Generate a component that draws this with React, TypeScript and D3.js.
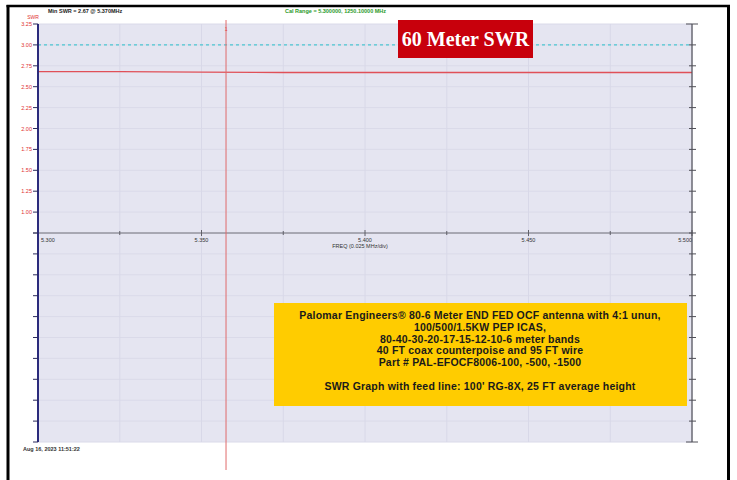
import React from "react";
import * as d3 from "d3";

const freqs = [5.3, 5.325, 5.35, 5.375, 5.4, 5.425, 5.45, 5.475, 5.5];
const swr = [2.68, 2.68, 2.675, 2.67, 2.67, 2.67, 2.67, 2.67, 2.67];
const refSwr = 3.0;
const markerFreq = 5.3575;
const xTickLabels = ["5.300", "5.350", "5.400", "5.450", "5.500"];
const yTickLabels = ["3.25", "3.00", "2.75", "2.50", "2.25", "2.00", "1.75", "1.50", "1.25", "1.00"];
const infoLines = [
  "Palomar Engineers® 80-6 Meter END FED OCF  antenna with 4:1 unun,",
  "100/500/1.5KW PEP ICAS,",
  "80-40-30-20-17-15-12-10-6 meter bands",
  "40 FT coax counterpoise and 95 FT wire",
  "Part # PAL-EFOCF8006-100, -500, -1500",
  "",
  "SWR Graph with feed line: 100' RG-8X, 25 FT average height",
];
const titleText = "60 Meter SWR";
const minText = "Min SWR =  2.67 @  5.370MHz";
const calText = "Cal Range = 5.300000,  1250.10000 MHz";
const dateText = "Aug 16, 2023  11:51:22";
const xAxisTitle = "FREQ (0.025 MHz/div)";

export default function App() {
  const W = 737, H = 480;
  const left = 38, right = 692, top = 24, bottom = 442;
  const x = d3.scaleLinear().domain([5.3, 5.5]).range([left, right]);
  const y = d3.scaleLinear().domain([-1.75, 3.25]).range([bottom, top]);
  const yTicks = d3.range(21).map((i) => -1.75 + i * 0.25);
  const xTicks = d3.range(9).map((i) => 5.3 + i * 0.025);
  const line = d3
    .line<number>()
    .x((_, i) => x(freqs[i]))
    .y((d) => y(d));
  const font = "'Liberation Sans', Arial, sans-serif";
  const axisY = y(0.75);

  return (
    <svg
      width={W}
      height={H}
      style={{ position: "absolute", left: 0, top: 0, background: "#fff" }}
      fontFamily={font}
    >
      <rect x={0} y={0} width={W} height={H} fill="#fff" />
      <rect x={left} y={top} width={right - left} height={bottom - top} fill="#e5e5f1" />
      {yTicks.map((t, i) => (
        <line key={"hg" + i} x1={left} x2={right} y1={y(t)} y2={y(t)} stroke="#dadae9" strokeWidth={1} />
      ))}
      {xTicks.map((t, i) => (
        <line key={"vg" + i} x1={x(t)} x2={x(t)} y1={top} y2={bottom} stroke="#d8d8e8" strokeWidth={1} />
      ))}
      <line
        x1={left}
        x2={right}
        y1={y(refSwr)}
        y2={y(refSwr)}
        stroke="#4cc6d2"
        strokeWidth={1.2}
        strokeDasharray="3,3"
      />
      <line x1={left - 5} x2={right} y1={axisY} y2={axisY} stroke="#707078" strokeWidth={1} />
      {xTicks.map((t, i) => (
        <line
          key={"xt" + i}
          x1={x(t)}
          x2={x(t)}
          y1={axisY - (i % 2 === 0 ? 3 : 2)}
          y2={axisY + (i % 2 === 0 ? 3 : 2)}
          stroke="#606068"
          strokeWidth={1}
        />
      ))}
      {xTickLabels.map((lab, i) => {
        const xv = x(5.3 + i * 0.05);
        const anchor = i === 0 ? "start" : i === xTickLabels.length - 1 ? "end" : "middle";
        return (
          <text
            key={"xl" + i}
            x={i === 0 ? xv + 3 : xv}
            y={axisY + 9}
            fontSize={5.5}
            textAnchor={anchor}
            fill="#333"
          >
            {lab}
          </text>
        );
      })}
      <text x={360} y={axisY + 15} fontSize={5.5} textAnchor="middle" fill="#333">
        {xAxisTitle}
      </text>
      <path d={line(swr) || ""} fill="none" stroke="#e05058" strokeWidth={1.3} />
      <line x1={x(markerFreq)} x2={x(markerFreq)} y1={20} y2={470} stroke="#e06a6a" strokeWidth={1} />
      <text x={x(markerFreq)} y={31} fontSize={5} textAnchor="middle" fill="#e04040">
        1
      </text>
      <line x1={left} x2={left} y1={top} y2={bottom} stroke="#2b2b7c" strokeWidth={2} />
      {yTicks.map((t, i) => (
        <line key={"yt" + i} x1={left - 5} x2={left} y1={y(t)} y2={y(t)} stroke="#2b2b5c" strokeWidth={1} />
      ))}
      {yTickLabels.map((lab) => (
        <text
          key={"yl" + lab}
          x={32}
          y={y(parseFloat(lab)) + 2}
          fontSize={5.5}
          textAnchor="end"
          fill="#e03030"
        >
          {lab}
        </text>
      ))}
      <text x={33} y={19} fontSize={5} textAnchor="middle" fill="#e03030">
        SWR
      </text>
      <line x1={right} x2={right} y1={top} y2={bottom} stroke="#505058" strokeWidth={1.2} />
      {yTicks.map((t, i) => (
        <line
          key={"rt" + i}
          x1={right - (i === 0 || i === 20 ? 6 : 3)}
          x2={right + (i === 0 || i === 20 ? 6 : 4)}
          y1={y(t)}
          y2={y(t)}
          stroke="#505058"
          strokeWidth={1}
        />
      ))}
      <text x={48} y={13} fontSize={5.5} fontWeight="bold" fill="#222">
        {minText}
      </text>
      <text x={285} y={13} fontSize={5.5} fontWeight="bold" fill="#2a9a2a">
        {calText}
      </text>
      <rect x={398} y={20} width={135} height={38} fill="#c8000c" />
      <text
        x={465.5}
        y={46}
        fontSize={20}
        fontWeight="bold"
        textAnchor="middle"
        fill="#fff"
        fontFamily="'Liberation Serif', 'Times New Roman', serif"
      >
        {titleText}
      </text>
      <rect x={274} y={303} width={413} height={103} fill="#ffcc00" />
      {infoLines.map((l, i) => (
        <text
          key={"il" + i}
          x={480}
          y={319 + i * 11.8}
          fontSize={10.5}
          letterSpacing={0.2}
          fontWeight="bold"
          textAnchor="middle"
          fill="#1a1a1a"
        >
          {l}
        </text>
      ))}
      <text x={23} y={451} fontSize={5.5} fontWeight="bold" fill="#333">
        {dateText}
      </text>
      <line x1={8} x2={8} y1={5} y2={H} stroke="#000" strokeWidth={3} />
      <line x1={6.5} x2={730} y1={6} y2={6} stroke="#000" strokeWidth={2.5} />
      <line x1={728.5} x2={728.5} y1={5} y2={H} stroke="#000" strokeWidth={3} />
    </svg>
  );
}
